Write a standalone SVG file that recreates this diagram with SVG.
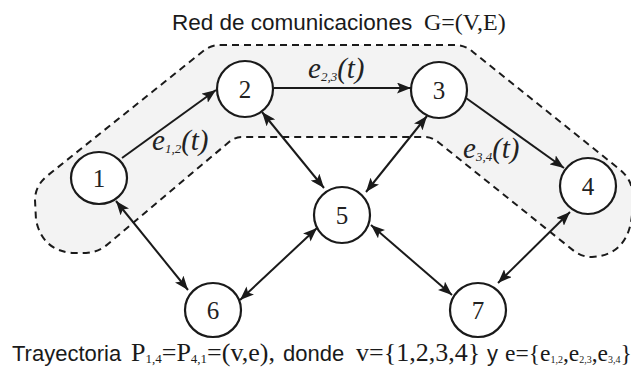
<svg xmlns="http://www.w3.org/2000/svg" width="631" height="373" viewBox="0 0 631 373">
<style>
.node ellipse{fill:#fff;stroke:#1a1a1a;stroke-width:2.2}
.node text{font-family:"Liberation Serif",serif;font-size:25px;fill:#222;text-anchor:middle}
.edge{stroke:#1a1a1a;stroke-width:2;fill:none}
.one{marker-end:url(#ah)}
.two{marker-end:url(#ah);marker-start:url(#ah)}
.lbl{font-family:"Liberation Serif",serif;font-style:italic;font-size:29px;fill:#222}
.sub{font-size:13px}
.sans{font-family:"Liberation Sans",sans-serif;fill:#1a1a1a}
.serif{font-family:"Liberation Serif",serif;fill:#1a1a1a}
</style>
<defs>
<marker id="ah" markerWidth="15" markerHeight="11" refX="14" refY="5.5" orient="auto-start-reverse" markerUnits="userSpaceOnUse">
<path d="M0,0 L14,5.5 L0,11 L3,5.5 Z" fill="#1a1a1a"/>
</marker>
</defs>
<g id="path-region">
<path d="M220,45 L455,45 Q465,45 473,52 L618,168 Q634,180 633,200 L632,215 Q628,255 592,257 Q582,257 574,251 L438,142 Q432,137 424,137 L242,137 Q235,137 229,142 L108,244 Q99,252 86,253 L72,253 Q42,250 36,220 L35,200 Q35,186 47,176 L202,52 Q210,45 220,45 Z" fill="#f3f3f3" stroke="#1a1a1a" stroke-width="2" stroke-dasharray="7,5"/>
</g>
<g id="connectors">
<line class="edge one" x1="122" y1="158" x2="216" y2="90"/>
<line class="edge one" x1="274" y1="88" x2="411" y2="88"/>
<line class="edge one" x1="466" y1="98" x2="564" y2="168"/>
<line class="edge two" x1="262" y1="112" x2="324" y2="188"/>
<line class="edge two" x1="427" y1="116" x2="366" y2="192"/>
<line class="edge two" x1="116" y1="201" x2="188" y2="290"/>
<line class="edge two" x1="240" y1="300" x2="317" y2="228"/>
<line class="edge two" x1="371" y1="225" x2="452" y2="295"/>
<line class="edge two" x1="498" y1="283" x2="570" y2="212"/>
<text class="lbl" x="152" y="150">e<tspan class="sub" dy="3">1,2</tspan><tspan dy="-3">(t)</tspan></text>
<text class="lbl" x="308" y="78">e<tspan class="sub" dy="3">2,3</tspan><tspan dy="-3">(t)</tspan></text>
<text class="lbl" x="463" y="158">e<tspan class="sub" dy="3">3,4</tspan><tspan dy="-3">(t)</tspan></text>
</g>
<g id="node1" class="node"><ellipse cx="99" cy="178" rx="28" ry="26"/><text x="99" y="187">1</text></g>
<g id="node2" class="node"><ellipse cx="245" cy="89" rx="28" ry="28"/><text x="245" y="98">2</text></g>
<g id="node3" class="node"><ellipse cx="439" cy="90" rx="28" ry="28"/><text x="439" y="99">3</text></g>
<g id="node4" class="node"><ellipse cx="588" cy="186" rx="28" ry="28"/><text x="588" y="195">4</text></g>
<g id="node5" class="node"><ellipse cx="342" cy="215" rx="28" ry="28"/><text x="342" y="224">5</text></g>
<g id="node6" class="node"><ellipse cx="213" cy="310" rx="28" ry="27"/><text x="213" y="319">6</text></g>
<g id="node7" class="node"><ellipse cx="478" cy="310" rx="28" ry="27"/><text x="478" y="319">7</text></g>
<g id="title">
<text class="sans" x="172" y="30" font-size="22.5">Red de comunicaciones</text>
<text class="serif" x="424" y="30" font-size="24">G=(V,E)</text>
</g>
<g id="caption" font-size="22">
<text class="sans" x="12" y="361">Trayectoria</text>
<text class="serif" x="131" y="361" font-size="26">P<tspan font-size="13" dy="2">1,4</tspan><tspan dy="-2">=P</tspan><tspan font-size="13" dy="2">4,1</tspan><tspan dy="-2">=(v,e),</tspan></text>
<text class="sans" x="283" y="361">donde</text>
<text class="serif" x="356" y="361" font-size="26">v={1,2,3,4}</text>
<text class="sans" x="487" y="361">y</text>
<text class="serif" x="505" y="361" font-size="23.5">e={e<tspan font-size="10" dy="2">1,2</tspan><tspan dy="-2">,e</tspan><tspan font-size="10" dy="2">2,3</tspan><tspan dy="-2">,e</tspan><tspan font-size="10" dy="2">3,4</tspan><tspan dy="-2">}</tspan></text>
</g>
</svg>
